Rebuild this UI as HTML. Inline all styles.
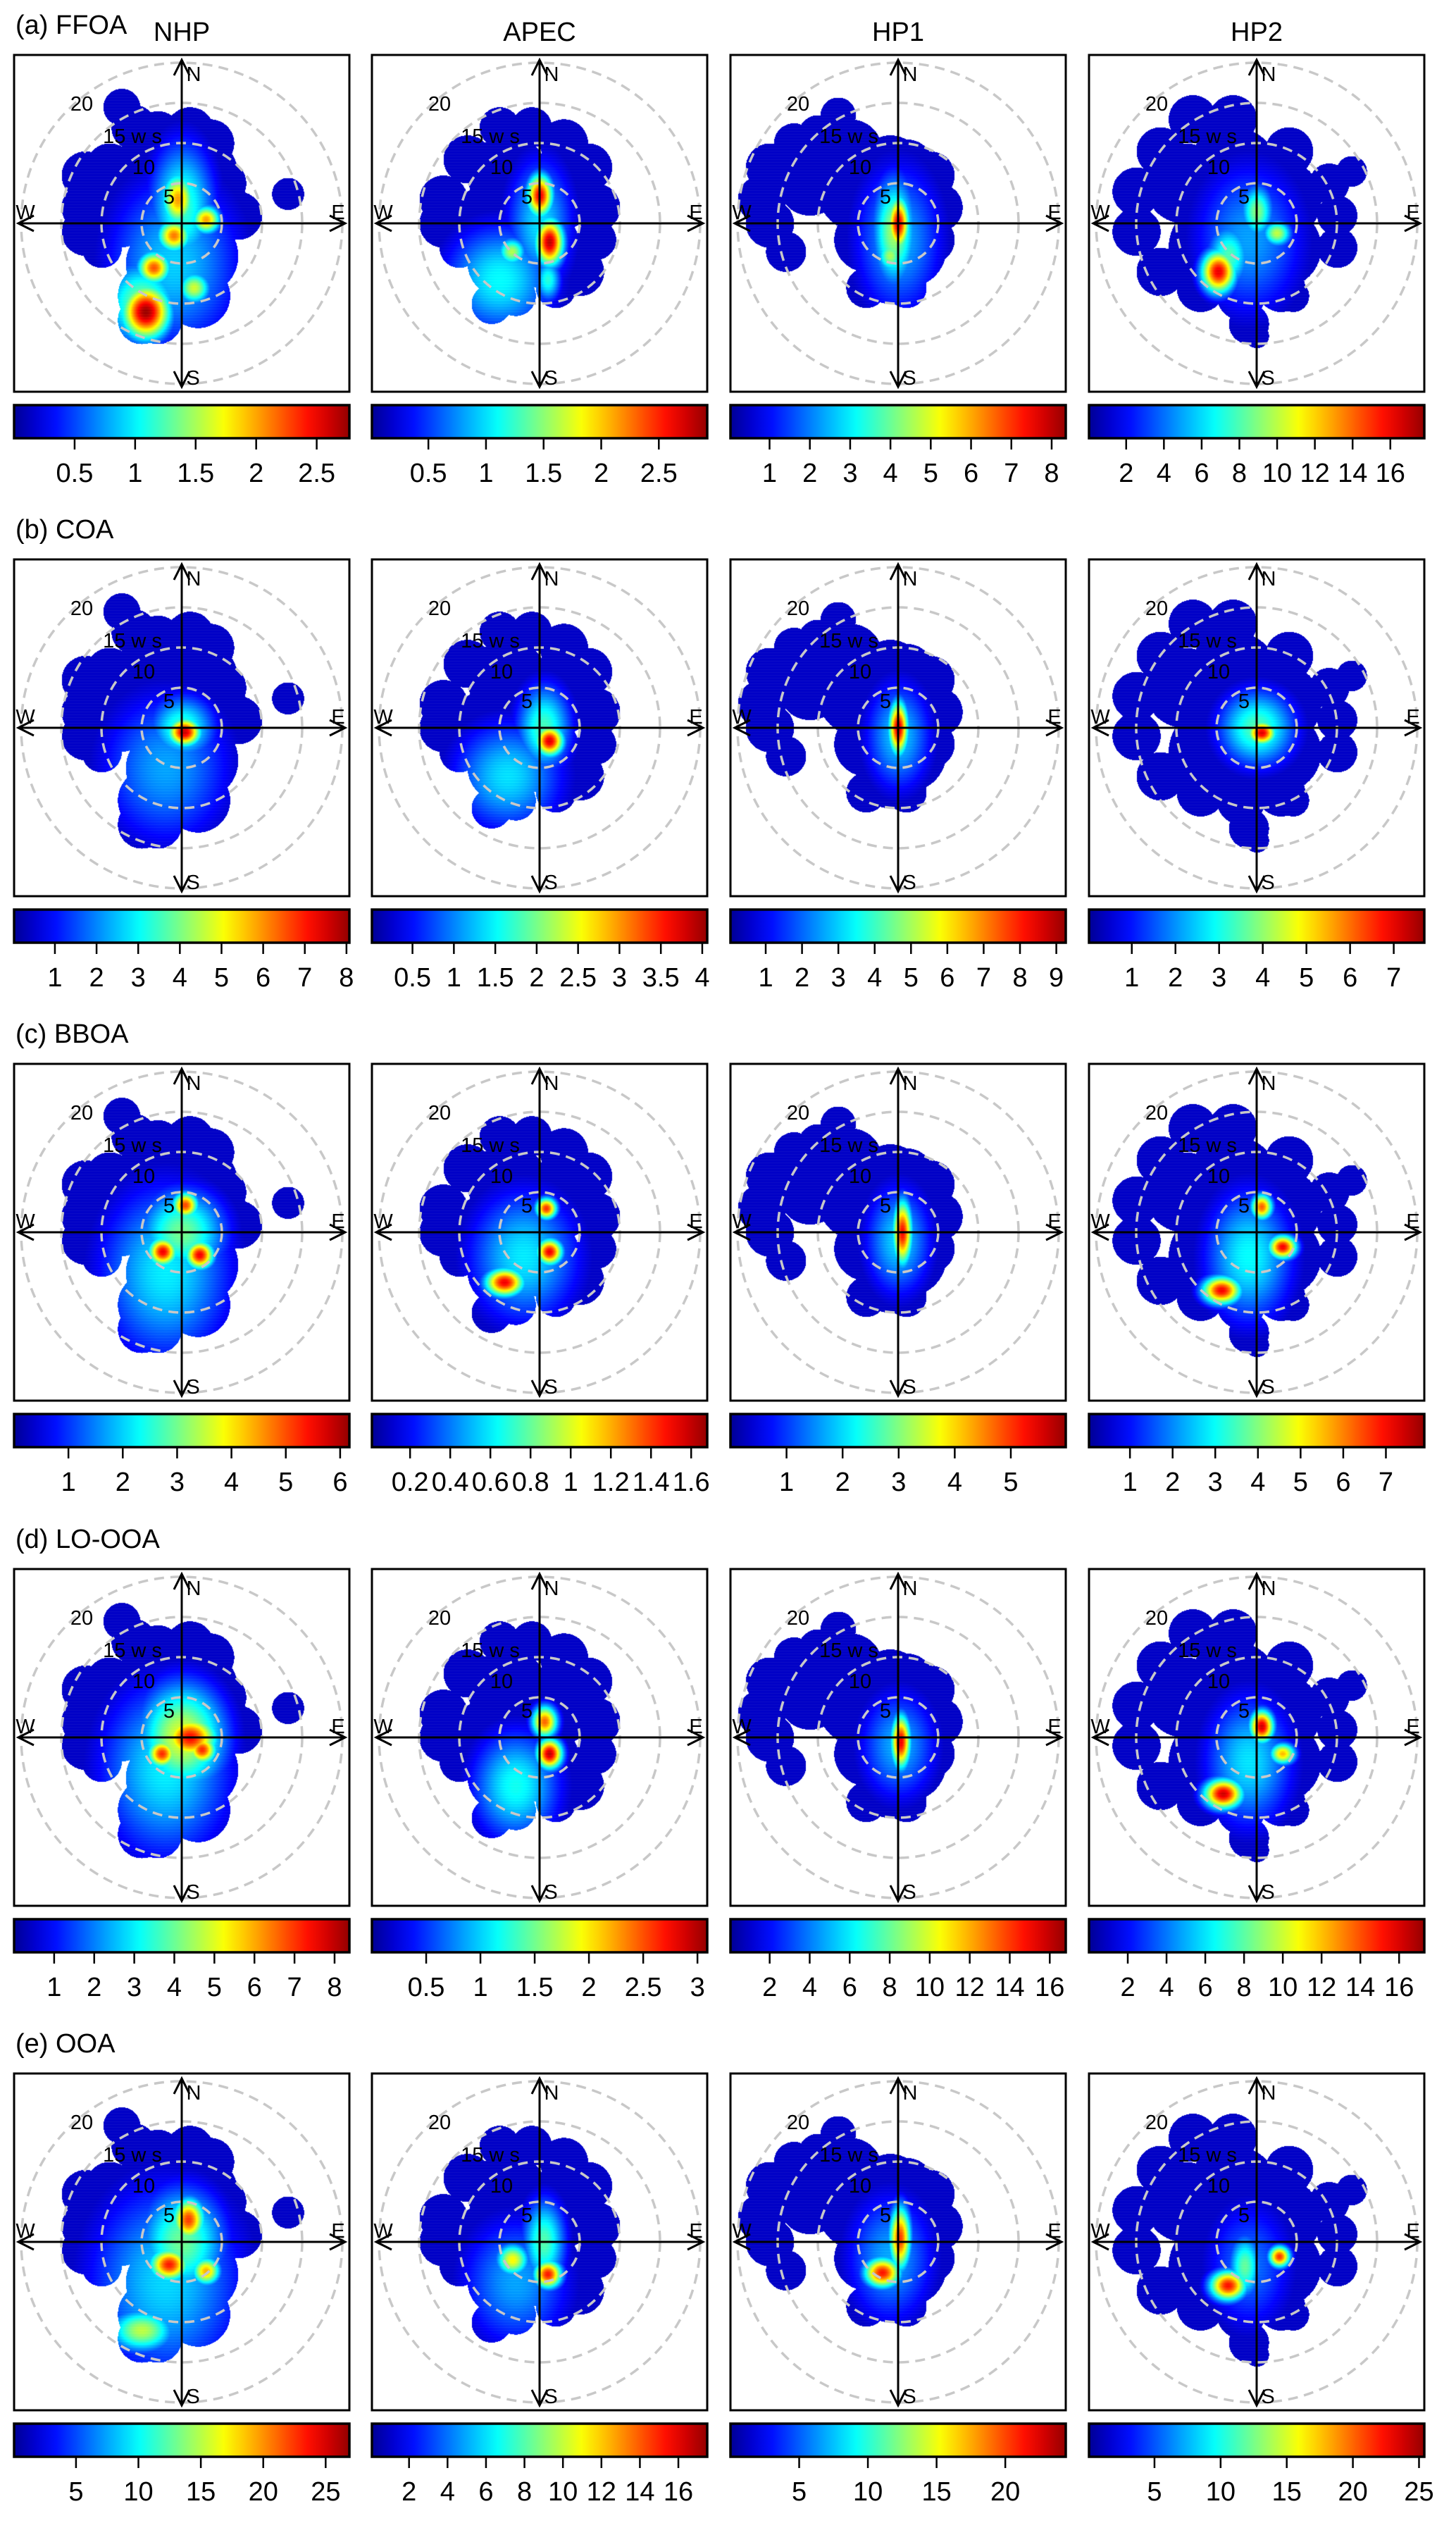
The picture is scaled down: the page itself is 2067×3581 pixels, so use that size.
<!DOCTYPE html>
<html><head><meta charset="utf-8">
<style>
html,body{margin:0;padding:0;background:#fff;}
#wrap{position:relative;width:2067px;height:3581px;}
canvas{position:absolute;}
svg{position:absolute;left:0;top:0;display:block;font-family:"Liberation Sans",Arial,sans-serif;}
</style></head>
<body>
<div id="wrap">
<svg id="fig" width="2067" height="3581" viewBox="0 0 2067 3581" xmlns="http://www.w3.org/2000/svg">
<defs>
<linearGradient id="jetgrad" x1="0" y1="0" x2="1" y2="0"></linearGradient>
</defs>
</svg>
</div>
<script>
// ---------- data ----------
const siteNames = ["NHP","APEC","HP1","HP2"];
const rowNames = ["(a) FFOA","(b) COA","(c) BBOA","(d) LO-OOA","(e) OOA"];
const cbarMin = [[0,0.01,0.03,0.03],[0.02,0.01,0.03,0.02],[0,0.01,0,0.04],[0,0,0.04,0],[0.04,0.07,0,0.05]];
const cbarMax = [[2.77,2.92,8.35,17.8],[8.07,4.06,9.26,7.7],[6.17,1.68,5.98,7.9],[8.37,3.09,16.8,17.3],[26.9,17.5,24.4,25.4]];
const tickLabels = [
 [[0.5,1,1.5,2,2.5],[0.5,1,1.5,2,2.5],[1,2,3,4,5,6,7,8],[2,4,6,8,10,12,14,16]],
 [[1,2,3,4,5,6,7,8],[0.5,1,1.5,2,2.5,3,3.5,4],[1,2,3,4,5,6,7,8,9],[1,2,3,4,5,6,7]],
 [[1,2,3,4,5,6],[0.2,0.4,0.6,0.8,1,1.2,1.4,1.6],[1,2,3,4,5],[1,2,3,4,5,6,7]],
 [[1,2,3,4,5,6,7,8],[0.5,1,1.5,2,2.5,3],[2,4,6,8,10,12,14,16],[2,4,6,8,10,12,14,16]],
 [[5,10,15,20,25],[2,4,6,8,10,12,14,16],[5,10,15,20],[5,10,15,20,25]]
];
const blobNHP = [[-7.5,14.5,2.3],[-6,12,2.8],[-3,11,3],[1,11.5,3],[3.5,10,3],[-12,6,3],[-12,2,3],[-12,-1,3],[-9,7,3],[-8,2,5],[-4,6,5],[2,6,5],[5,5,3],[7,1,3],[-10,-3,2.5],[0,0,6],[-2,-5,5],[2,-4,5],[-4,-9,4],[2,-9,4],[-5,-12,3],[-3,-12,3],[13.2,3.7,2]];
const blobAPEC = [[-5,12,2.5],[-1,12,2.5],[3,10,3],[6,7,3],[-9,8,3],[-12,3,3],[-12,0,3],[-10,-3,2.5],[7,2,3],[7,-2,2.5],[5,-6,3],[2,-8,2.5],[-3,-9,2.5],[-6,-10,2.5],[-4,6,5],[2,4,5],[-6,0,5],[0,-3,5],[-5,-5,4],[0,0,4]];
const blobHP1 = [[-7.5,13.5,2.2],[-10,11,2.5],[-13,10,2.5],[-16,7,3],[-17,3,3],[-16,0,3],[-14,-3.5,2.5],[-11,5,4],[-6,9,4],[-5,4,5],[-4,-2,4],[1,7,3.5],[4,6,3],[5,2,3],[4,-2,3],[1,-3,5],[-1,-6,4],[-4,-8,2.5],[1,-8,2.5],[0,2,4],[-1,7,4]];
const blobHP2 = [[-8,13,3],[-3,13,3],[-12,9,3],[-15,4,3],[-15,-1,3],[-12,-6,3],[-7,-8,3],[-2,-9,3],[3,-8,3],[4.5,-9,2],[-1,-12.5,2.5],[0,-14,1.5],[10,-3,2.5],[10,1,2.5],[9,5,2.5],[4,9,3],[-9,5,5],[-3,6,6],[3,3,5],[-5,-3,6],[3,-3,5],[11.8,6.5,1.9]];
const hotA = [
 [[-1,-5,6,8,0.9],[0,2,3,6,1.2],[-0.5,3,1.5,2.5,2.0],[-1,-1.5,1.5,1.5,2.1],[3,0.5,1.3,1.3,2.0],[-3.5,-5.5,1.5,1.5,2.2],[1.5,-8,1.5,1.5,1.6],[-5,-10,3.5,4,1.4],[-4.5,-11,2.2,2.5,2.7]],
 [[0,0,3,6,1.0],[-5,-7,5,5,1.1],[0,3.5,1.2,2,2.6],[1.2,-2.3,1.3,2.2,2.75],[-3.5,-3.5,1.3,1.3,1.6],[1,-7,1.2,2,1.2]],
 [[0,-2,4,7,2.5],[-0.5,-1,2,5,4.5],[0,0,1,2.5,7.5],[-1,-4,1.2,1.5,4.5]],
 [[-1,-2,5,7,5],[0,1.5,1.5,2.5,9],[2.5,-1.2,1.3,1.2,10],[-3.5,-4,2,3,8],[-4.8,-6,1.6,2,16]]
];
const hotB = [
 [[-2,-5,6,7,2.3],[0,0,3,3,3.5],[0.3,-0.5,1.5,1.3,7.5]],
 [[-4,-6,5,5,1.4],[0.5,0,2.5,4,1.8],[1.2,-1.6,1.3,1.4,3.7]],
 [[0,-1,3,5,3],[0,0,0.9,2.5,8.5]],
 [[0,0,3.5,3.5,3.5],[0.6,-0.6,1.3,1.1,7]]
];
const hotC = [
 [[-2,-5,6,8,2.2],[0,0,4,4,3],[0.4,3.4,1.2,1.2,5],[-2.4,-2.4,1.3,1.3,5.5],[2.2,-2.8,1.3,1.3,5.5]],
 [[-2,-3,5,6,0.6],[0.8,3,1,1,1.4],[1.2,-2.4,1.2,1.2,1.5],[-4.4,-6.2,1.8,1.3,1.5]],
 [[0,-1,3,5,2],[0.5,0,0.9,3,5.2]],
 [[-1,-3,4,6,3],[0.6,3.2,1,1.2,6.2],[3.2,-1.8,1.3,1.1,7],[-4.4,-7.2,1.8,1.3,7]]
];
const hotD = [
 [[-2,-4,6,8,3],[0,0,4,5,5],[1,0,2.5,2,7.3],[-2.5,-2,1.3,1.3,7],[2.5,-1.5,1.3,1.3,7]],
 [[-3,-6,4,5,1.2],[0.6,2,1.2,1.5,2.4],[1.2,-2,1.2,1.4,2.9]],
 [[0,-1,3.5,5,5],[0.3,-0.5,0.9,2.5,15]],
 [[-1,-3,4,6,6],[0.6,1.4,1.1,1.5,16],[3.2,-2,1.2,1,12],[-4.2,-7,1.8,1.4,16]]
];
const hotE = [
 [[-2,-5,7,9,9],[0,0,4,5,13],[0.8,2.8,1.5,2,22],[-1.6,-2.8,1.8,1.5,23],[3,-3.6,1.3,1.3,19],[-5,-11,3,2,15]],
 [[-3,-5,5,6,5],[0.5,0,2,4,8],[1,-4,1.3,1.3,15],[-3.4,-2.2,1.5,1.5,11]],
 [[-1,-2,4,6,7],[0.2,0.5,1,3,20],[-2,-3.8,1.7,1.4,21]],
 [[-1,-3,4,6,6],[-1.5,-3,1.5,3,12],[-3.6,-5.4,1.7,1.4,22],[2.8,-1.8,1,1,21]]
];
const ringValues = [5,10,15,20];

// ---------- layout ----------
const blobs = [blobNHP, blobAPEC, blobHP1, blobHP2];
const hots = [hotA, hotB, hotC, hotD, hotE];
const colX = [20,528,1037,1546];
const rowY = [78,794,1510,2227,2943];
const BW = 476, BH = 478, U = 11.4, FALLOFF = 0.55;
const NS = "http://www.w3.org/2000/svg";
const svg = document.getElementById('fig');
const wrap = document.getElementById('wrap');

function el(tag, attrs, parent){
  const e = document.createElementNS(NS, tag);
  for (const k in attrs) e.setAttribute(k, attrs[k]);
  if (parent) parent.appendChild(e);
  return e;
}
function jetArr(x){
  x = Math.max(0, Math.min(1, x));
  const c = v => Math.round(255*Math.max(0, Math.min(1, v)));
  return [c(1.5-Math.abs(4*x-3)), c(1.5-Math.abs(4*x-2)), c(1.5-Math.abs(4*x-1))];
}
function jet(x){ const a = jetArr(x); return `rgb(${a[0]},${a[1]},${a[2]})`; }
const grad = document.getElementById('jetgrad');
for (let i=0;i<=16;i++){ el('stop',{offset:(i/16), 'stop-color':jet(0.02+0.96*i/16)},grad); }

function text(str, x, y, size, parent, anchor, name){
  const t = el('text',{x:x,y:y,'font-size':size,'text-anchor':anchor||'middle','fill':'#000'},parent);
  t.textContent = str;
  
  
  return t;
}

function drawHeat(r, c){
  const bx = colX[c], by = rowY[r];
  const cv = document.createElement('canvas');
  
  
  cv.width = BW; cv.height = BH;
  cv.style.left = bx + 'px'; cv.style.top = by + 'px';
  wrap.insertBefore(cv, svg);
  const ctx = cv.getContext('2d');
  const img = ctx.createImageData(BW, BH);
  const vmin = cbarMin[r][c], vmax = cbarMax[r][c];
  const blob = blobs[c], hs = hots[r][c];
  for (let py=0; py<BH; py++){
    const n = (BH/2 - py)/U;
    for (let px=0; px<BW; px++){
      const e = (px - BW/2)/U;
      let inside = false;
      for (const b of blob){ const dx=e-b[0], dy=n-b[1]; if (dx*dx+dy*dy <= b[2]*b[2]) { inside = true; break; } }
      if (!inside) continue;
      let v = vmin;
      for (const h of hs){
        const dx=(e-h[0])/h[2], dy=(n-h[1])/h[3];
        const val = vmin + (h[4]-vmin)*Math.exp(-FALLOFF*(dx*dx+dy*dy));
        if (val > v) v = val;
      }
      const f = Math.max(0.07, (v - vmin)/(vmax - vmin));
      const col = jetArr(f);
      const stripe = (py % 4 === 0) ? 14 : 0;
      const i = (py*BW + px)*4;
      img.data[i] = Math.min(255, col[0]+stripe);
      img.data[i+1] = Math.min(255, col[1]+stripe);
      img.data[i+2] = Math.min(255, col[2]);
      img.data[i+3] = 255;
    }
  }
  ctx.putImageData(img, 0, 0);
}

siteNames.forEach((s,c)=>{ text(s, colX[c]+BW/2, 58, 38, svg, 'middle', 'column-title-'+s.toLowerCase()); });

for (let r=0;r<5;r++){
  text(rowNames[r], 22, rowY[r]-30, 38, svg, 'start', 'row-label-'+(r+1));
  for (let c=0;c<4;c++){
    drawHeat(r, c);
    const bx = colX[c], by = rowY[r];
    const cx = bx + BW/2, cy = by + BH/2;
    const g = el('g',{},svg);
    
    
    const vmin = cbarMin[r][c], vmax = cbarMax[r][c];

    ringValues.forEach(rv=>{
      const ring = el('circle',{cx:cx,cy:cy,r:rv*U,fill:'none',stroke:'#c8c8c8','stroke-width':3.5,'stroke-dasharray':'14 9'},g);
      
      
    });
    text('20', cx-142, cy-160, 29, g, 'middle', 'ring-label-20');
    text('15 w s', cx-70, cy-114, 29, g, 'middle', 'ring-label-15');
    text('10', cx-54, cy-70, 29, g, 'middle', 'ring-label-10');
    text('5', cx-18, cy-28, 29, g, 'middle', 'ring-label-5');

    const ax = el('g',{stroke:'#000','stroke-width':3,fill:'none'},g);
    
    
    const top = by+7, bot = by+BH-7, lft = bx+6, rgt = bx+BW-6, a=22, w=11;
    el('line',{x1:cx,y1:top,x2:cx,y2:bot},ax);
    el('line',{x1:lft,y1:cy,x2:rgt,y2:cy},ax);
    el('polyline',{points:`${cx-w},${top+a} ${cx},${top} ${cx+w},${top+a}`},ax);
    el('polyline',{points:`${cx-w},${bot-a} ${cx},${bot} ${cx+w},${bot-a}`},ax);
    el('polyline',{points:`${lft+a},${cy-w} ${lft},${cy} ${lft+a},${cy+w}`},ax);
    el('polyline',{points:`${rgt-a},${cy-w} ${rgt},${cy} ${rgt-a},${cy+w}`},ax);
    text('N', cx+17, top+30, 29, g, 'middle', 'compass-n');
    text('S', cx+16, bot-3, 29, g, 'middle', 'compass-s');
    text('W', lft+10, cy-6, 29, g, 'middle', 'compass-w');
    text('E', rgt-10, cy-6, 29, g, 'middle', 'compass-e');

    const fr = el('rect',{x:bx,y:by,width:BW,height:BH,fill:'none',stroke:'#000','stroke-width':3},g);
    
    

    const cbY = by + 497, cbH = 47;
    const cb = el('rect',{x:bx,y:cbY,width:BW,height:cbH,fill:'url(#jetgrad)',stroke:'#000','stroke-width':3.5},g);
    
    
    const tx = v => bx + (v - vmin)/(vmax - vmin)*BW;
    tickLabels[r][c].forEach(t=>{
      const x = tx(t);
      const tk = el('line',{x1:x,y1:cbY+cbH,x2:x,y2:cbY+cbH+16,stroke:'#000','stroke-width':2.5},g);
      
      
      text(String(t), x, by+606, 38, g, 'middle', 'colour-bar-tick-label');
    });
  }
}
</script>
</body></html>
